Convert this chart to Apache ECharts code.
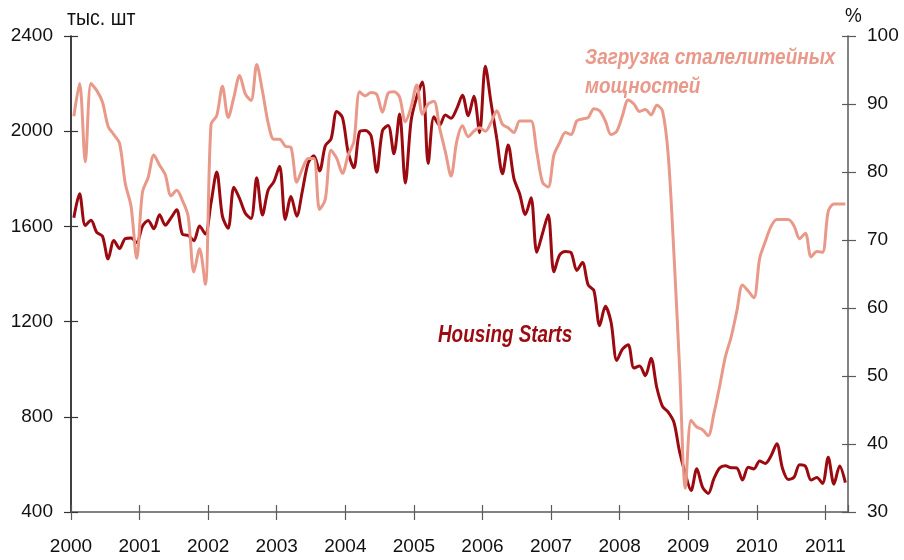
<!DOCTYPE html>
<html>
<head>
<meta charset="utf-8">
<script src="https://cdn.jsdelivr.net/npm/echarts@6/dist/echarts.min.js"></script>
<style>
  html, body { margin: 0; padding: 0; background: #fff; }
  #chart { width: 904px; height: 560px; }
</style>
</head>
<body>
<div id="chart"></div>
<script>
// месячные данные, январь 2000 - апрель 2011
var startYear = 2000;
var yearTicks = [2000, 2001, 2002, 2003, 2004, 2005, 2006, 2007, 2008, 2009, 2010, 2011];

// Housing Starts, тыс. шт (левая шкала)
var housingStarts = [
  1636, 1737, 1604, 1626, 1575, 1559, 1463, 1541, 1507, 1549, 1551, 1532,
  1600, 1625, 1590, 1649, 1605, 1636, 1670, 1567, 1562, 1540, 1602, 1568,
  1698, 1829, 1642, 1592, 1764, 1717, 1655, 1633, 1804, 1648, 1753, 1788,
  1853, 1629, 1726, 1643, 1751, 1867, 1897, 1833, 1939, 1967, 2083, 2057,
  1911, 1846, 1998, 2003, 1981, 1828, 2002, 2024, 1905, 2072, 1782, 2042,
  2144, 2207, 1864, 2061, 2025, 2068, 2054, 2095, 2151, 2065, 2147, 1994,
  2273, 2119, 1969, 1821, 1942, 1802, 1737, 1650, 1720, 1491, 1570, 1649,
  1409, 1480, 1495, 1490, 1415, 1448, 1354, 1330, 1183, 1264, 1197, 1037,
  1084, 1103, 1005, 1013, 973, 1046, 923, 844, 820, 777, 652, 560,
  490, 582, 505, 478, 540, 585, 594, 586, 585, 534, 588, 581,
  614, 604, 636, 687, 583, 537, 546, 599, 593, 534, 545, 520,
  630, 517, 593, 523
];

// Загрузка сталелитейных мощностей, % (правая шкала)
var steelUtil = [
  88.2, 93, 81.5, 93, 92, 90.3, 86.7, 85.5, 84.2, 78.3, 75, 67.3,
  77, 79.2, 82.5, 81, 79.6, 76.5, 77.3, 75.8, 73.5, 65.3, 68.7, 63.5,
  87, 88.3, 92.6, 88, 91, 94.2, 91.5, 90.5, 95.8, 91.9, 87.2, 84.8,
  84.8, 83.8, 83.6, 78.5, 80.5, 82, 82, 74.5, 76, 83.2, 82, 79.8,
  82.5, 84.5, 91.8, 91.2, 91.7, 91.4, 88.8, 91.6, 91.8, 91, 87.4, 89.5,
  92.8, 88.5, 90, 90.4, 86.5, 83, 79.4, 84.5, 86.8, 85.2, 86, 86.5,
  86, 87.3, 89, 87, 86.5, 85.8, 87.5, 87.5, 87.5, 83, 78.5, 77.8,
  82.5, 84.3, 85.8, 85.5, 87.5, 87.8, 88, 89.3, 89, 87.5, 85.5, 86,
  88.3, 90.6, 90, 88.9, 89.2, 88.4, 89.8, 89, 82.5, 68, 51, 33.5,
  43.5, 42.5, 42.1, 41.2, 44.5, 48.5, 52.8, 55.7, 59.5, 63.4, 62.5, 61.5,
  67.3, 69.8, 72, 73, 73, 73, 72.1, 70.2, 71, 67.5, 68.3, 68.2,
  74.2, 75.3, 75.3, 75.3
];

var leftTicks = [400, 800, 1200, 1600, 2000, 2400];
var rightTicks = [30, 40, 50, 60, 70, 80, 90, 100];

(function () {
    var font = '"Liberation Sans", Arial, sans-serif';
    var darkRed = '#9b0a10';
    var salmon = '#e9998a';

    // точка ставится в середину месяца
    function toPoints(arr) {
        return arr.map(function (v, i) {
            return [startYear + (i + 0.5) / 12, v];
        });
    }

    var xMin = yearTicks[0];
    var xMax = 2011.33;

    var myChart = echarts.init(document.getElementById('chart'));
    var option = {
        animation: false,
        backgroundColor: '#fff',
        textStyle: { fontFamily: font },
        grid: {
            left: 71,
            right: 56,
            top: 36,
            bottom: 48,
            containLabel: false,
            outerBoundsMode: 'none'
        },
        xAxis: [{
            type: 'value',
            position: 'bottom',
            min: xMin,
            max: xMax,
            interval: 1,
            axisLine: { lineStyle: { color: '#5a5a5a', width: 1.5 } },
            axisTick: { length: 8, lineStyle: { color: '#5a5a5a', width: 1.2 } },
            axisLabel: {
                margin: 25,
                fontSize: 19,
                color: '#111',
                fontFamily: font,
                showMaxLabel: false,
                formatter: function (v) { return yearTicks.indexOf(Math.round(v)) >= 0 ? String(Math.round(v)) : ''; }
            },
            splitLine: { show: false }
        }, {
            // вторая ось только для рисок внутрь
            type: 'value',
            position: 'bottom',
            min: xMin,
            max: xMax,
            interval: 1,
            axisLine: { show: false },
            axisTick: { inside: true, length: 7, lineStyle: { color: '#5a5a5a', width: 1.2 } },
            axisLabel: { show: false },
            splitLine: { show: false }
        }],
        yAxis: [{
            type: 'value',
            position: 'left',
            min: leftTicks[0],
            max: leftTicks[leftTicks.length - 1],
            interval: 400,
            axisLine: { show: true, lineStyle: { color: '#000', width: 1.5 } },
            axisTick: { show: true, length: 7, lineStyle: { color: '#333', width: 1.2 } },
            axisLabel: {
                margin: 18, fontSize: 19, color: '#111', fontFamily: font,
                formatter: function (v) { return String(v); }
            },
            splitLine: { show: false }
        }, {
            type: 'value',
            position: 'right',
            min: rightTicks[0],
            max: rightTicks[rightTicks.length - 1],
            interval: 10,
            axisLine: { show: true, lineStyle: { color: '#5a5a5a', width: 1.5 } },
            axisTick: { show: true, length: 8, lineStyle: { color: '#5a5a5a', width: 1.2 } },
            axisLabel: {
                margin: 19, fontSize: 19, color: '#111', fontFamily: font,
                formatter: function (v) { return String(v); }
            },
            splitLine: { show: false }
        }, {
            type: 'value',
            position: 'left',
            min: leftTicks[0],
            max: leftTicks[leftTicks.length - 1],
            interval: 400,
            axisLine: { show: false },
            axisTick: { show: true, inside: true, length: 7, lineStyle: { color: '#333', width: 1.2 } },
            axisLabel: { show: false },
            splitLine: { show: false }
        }, {
            type: 'value',
            position: 'right',
            min: rightTicks[0],
            max: rightTicks[rightTicks.length - 1],
            interval: 10,
            axisLine: { show: false },
            axisTick: { show: true, inside: true, length: 6, lineStyle: { color: '#5a5a5a', width: 1.2 } },
            axisLabel: { show: false },
            splitLine: { show: false }
        }],
        series: [{
            name: 'Housing Starts',
            type: 'line',
            xAxisIndex: 0,
            yAxisIndex: 0,
            data: toPoints(housingStarts),
            smooth: 0.3,
            showSymbol: false,
            lineStyle: { color: darkRed, width: 3 },
            z: 2
        }, {
            name: 'Загрузка сталелитейных мощностей',
            type: 'line',
            xAxisIndex: 0,
            yAxisIndex: 1,
            data: toPoints(steelUtil),
            smooth: 0.3,
            showSymbol: false,
            lineStyle: { color: salmon, width: 3 },
            z: 3
        }],
        // подписи сжаты по горизонтали, как узкий шрифт оригинала
        graphic: [{
            type: 'text',
            x: 67,
            y: 8,
            scaleX: 0.89,
            style: { text: 'тыс. шт', font: '22px ' + font, fill: '#111', verticalAlign: 'top' }
        }, {
            type: 'text',
            x: 845,
            y: 6,
            scaleX: 0.9,
            style: { text: '%', font: '21px ' + font, fill: '#111', verticalAlign: 'top' }
        }, {
            type: 'text',
            x: 585,
            y: 43,
            scaleX: 0.86,
            style: {
                text: 'Загрузка сталелитейных\nмощностей',
                font: 'italic bold 22px ' + font,
                lineHeight: 29,
                fill: salmon,
                verticalAlign: 'top'
            }
        }, {
            type: 'text',
            x: 438,
            y: 324,
            scaleX: 0.82,
            style: { text: 'Housing Starts', font: 'italic bold 23px ' + font, fill: darkRed, verticalAlign: 'top' }
        }]
    };
    myChart.setOption(option);
    window.addEventListener('resize', function () {
        myChart.resize();
    });
})();
</script>
</body>
</html>
